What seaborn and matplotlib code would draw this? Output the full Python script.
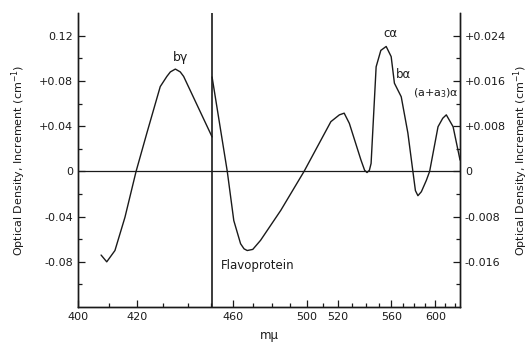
import numpy as np
import pandas as pd
import matplotlib
matplotlib.use("Agg")
import matplotlib.pyplot as plt
import seaborn as sns

# ── Data ─────────────────────────────────────────────────────
# left part (400-450 mμ), read on the left axis
wl_left = [407.5, 409.4, 412.2, 415.7, 419.7, 423.7, 428.8, 431.4, 432.8,
           434.8, 436.8, 438.2, 450.5]
od_left = [-0.074, -0.080, -0.070, -0.0406, 0.0, 0.034, 0.075, 0.084, 0.088,
           0.0905, 0.088, 0.084, 0.0305]

# right part (450-626 mμ), read on the right axis
wl_right = [450.5, 457.5, 460.6, 463.9, 465.6, 467.2, 470.0, 474.0, 484.9,
            498.4, 515.3, 521.0, 524.3, 527.9, 536.3, 539.0, 540.8, 542.6,
            543.9, 547.8, 551.5, 555.8, 559.9, 562.6, 568.4, 574.2, 578.7,
            581.0, 583.3, 586.5, 591.2, 594.4, 602.7, 607.5, 611.2, 618.4, 626.0]
od_right = [0.0167, 0.0, -0.0087, -0.0128, -0.0137, -0.0140, -0.0138, -0.0122,
            -0.0069, 0.0, 0.0088, 0.0100, 0.0103, 0.0085, 0.0020, 0.0002,
            -0.0002, 0.0002, 0.0014, 0.0185, 0.0214, 0.0221, 0.0203, 0.0156,
            0.0132, 0.0068, 0.0, -0.0034, -0.0043, -0.0036, -0.0016, 0.0,
            0.0079, 0.0094, 0.0100, 0.0079, 0.0020]

x_ticks = [400, 420, 460, 500, 520, 560, 600]
x_minor = list(range(410, 621, 10))
left_ticks = [0.12, 0.08, 0.04, 0, -0.04, -0.08]
left_labels = ["0.12", "+0.08", "+0.04", "0", "-0.04", "-0.08"]
right_ticks = [0.024, 0.016, 0.008, 0, -0.008, -0.016]
right_labels = ["+0.024", "+0.016", "+0.008", "0", "-0.008", "-0.016"]

# prism (Hartmann) dispersion scale of the wavelength axis
LAM0 = 143.3


def fwd(x):
    return -1.0 / (np.asarray(x, dtype=float) - LAM0)


def inv(y):
    return LAM0 - 1.0 / np.asarray(y, dtype=float)


df_left = pd.DataFrame({"wl": wl_left, "od": od_left})
df_right = pd.DataFrame({"wl": wl_right, "od": od_right})

# ── Plot ─────────────────────────────────────────────────────
sns.set_style("ticks")
plt.rcParams["font.family"] = ["DejaVu Sans"]

fig = plt.figure(figsize=(5.3, 3.45), dpi=100)
ax = fig.add_axes([0.147, 0.110, 0.721, 0.852])
ax.set_xscale("function", functions=(fwd, inv))
ax.set_xlim(400, 626)
ax.set_ylim(-0.12, 0.14)

ax2 = ax.twinx()
ax2.set_ylim(-0.024, 0.028)

ink = "#1a1a1a"
sns.lineplot(data=df_left, x="wl", y="od", ax=ax, color=ink, lw=1.0, sort=False)
sns.lineplot(data=df_right, x="wl", y="od", ax=ax2, color=ink, lw=1.0, sort=False)

ax.axhline(0, color=ink, lw=0.9)
ax.axvline(450.5, color=ink, lw=1.2)

ax.set_xticks(x_ticks)
ax.set_xticklabels([str(t) for t in x_ticks])
ax.set_xticks(x_minor, minor=True)
ax.set_yticks(left_ticks)
ax.set_yticklabels(left_labels)
ax.set_yticks(np.arange(-0.10, 0.13, 0.04), minor=True)
ax2.set_yticks(right_ticks)
ax2.set_yticklabels(right_labels)
ax2.set_yticks(np.arange(-0.020, 0.025, 0.008), minor=True)

for a in (ax, ax2):
    a.tick_params(which="major", direction="in", length=5, width=0.9,
                  labelsize=8, colors=ink)
    a.tick_params(which="minor", direction="in", length=3, width=0.9, colors=ink)
    for s in a.spines.values():
        s.set_color(ink)
        s.set_linewidth(1.0)
    a.spines["top"].set_visible(False)
    a.set_xlabel("")

ax.set_xlabel("mμ", fontsize=8.5, color=ink, labelpad=5)
ylab = "Optical Density, Increment (cm$^{-1}$)"
ax.set_ylabel(ylab, fontsize=8, color=ink, labelpad=8)
ax2.set_ylabel(ylab, fontsize=8, color=ink, labelpad=4, rotation=90)

# annotations
ax.text(436.8, 0.101, "bγ", fontsize=9, ha="center", va="center", color=ink)
ax.text(454.5, -0.0836, "Flavoprotein", fontsize=8.5, ha="left", va="center",
        color=ink)
ax2.text(559.0, 0.0244, "cα", fontsize=8.5, ha="center", va="center", color=ink)
ax2.text(563.5, 0.0171, "bα", fontsize=8.5, ha="left", va="center", color=ink)
ax2.text(601.0, 0.0139, "(a+a$_3$)α", fontsize=8, ha="center", va="center",
         color=ink)

fig.savefig("out.png", dpi=100)
